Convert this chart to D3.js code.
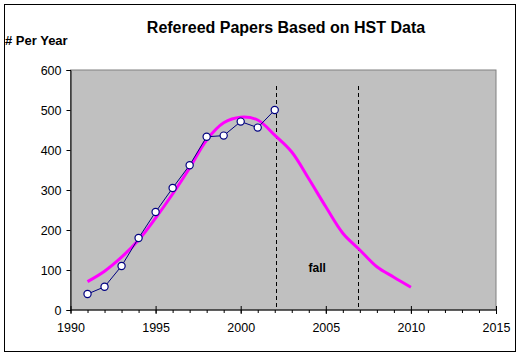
<!DOCTYPE html>
<html><head><meta charset="utf-8">
<script src="https://cdn.jsdelivr.net/npm/d3@7"></script>
<style>body{margin:0;background:#fff}svg{display:block}text{font-family:Arial,"Liberation Sans",sans-serif}</style>
</head><body><svg id="c" width="527" height="356"></svg>
<script>
const title = "Refereed Papers Based on HST Data";
const yTitle = "# Per Year";
const years = [1991,1992,1993,1994,1995,1996,1997,1998,1999,2000,2001,2002];
const papers = [40,58,110,180,245,305,362,433,436,471,456,500];
const fitYears = [1991,1992,1993,1994,1995,1996,1997,1998,1999,2000,2001,2002,2003,2004,2005,2006,2007,2008,2009,2010];
const fitValues = [71,97,132,175,230,290,355,425,468,482,475,437,395,328,258,192,150,108,82,57];
const markerYears = [2002.1,2006.9];
const markerTop = 560;
const xTicks = [1990,1995,2000,2005,2010,2015];
const yTicks = [0,100,200,300,400,500,600];
const noteText = "fall";
const notePos = [2004.5, 95];

const svg = d3.select("#c");
const L=70.5,R=496,T=70,B=310;
const x = d3.scaleLinear().domain([1990,2015]).range([L,R]);
const y = d3.scaleLinear().domain([0,600]).range([B,T]);

svg.append("rect").attr("x",4.5).attr("y",4.5).attr("width",511).attr("height",347).attr("fill","#fff").attr("stroke","#000");
svg.append("rect").attr("x",L).attr("y",T).attr("width",R-L).attr("height",B-T).attr("fill","#c0c0c0").attr("stroke","#808080");

svg.append("text").attr("x",286).attr("y",33).attr("text-anchor","middle").attr("font-size",16).attr("font-weight","bold").text(title);
svg.append("text").attr("x",5).attr("y",45).attr("font-size",13).attr("font-weight","bold").text(yTitle);

// axes
const ya = d3.axisLeft(y).tickValues(yTicks).tickSize(4).tickPadding(5);
const yg = svg.append("g").attr("transform",`translate(${L},0)`).call(ya);
yg.select(".domain").attr("stroke","#000");
yg.selectAll("text").attr("font-size",12.5).attr("font-family","Arial, 'Liberation Sans', sans-serif").attr("fill","#000");

const xg = svg.append("g").attr("transform",`translate(0,${B})`).call(d3.axisBottom(x).tickValues(d3.range(1990,2016)).tickSize(3).tickFormat(""));
xg.select(".domain").remove();
const xm = svg.append("g").attr("transform",`translate(0,${B})`).call(d3.axisBottom(x).tickValues(xTicks).tickSize(4).tickPadding(9).tickFormat(d3.format("d")));
xm.selectAll("line").attr("y1",-4);
xm.select(".domain").attr("stroke","#000").attr("d",`M${L},0H${R}`);
xm.selectAll("text").attr("font-size",12.5).attr("font-family","Arial, 'Liberation Sans', sans-serif").attr("fill","#000");

// dashed markers
svg.selectAll(".mk").data(markerYears).join("line")
  .attr("x1",d=>Math.round(x(d))+0.5).attr("x2",d=>Math.round(x(d))+0.5)
  .attr("y1",y(markerTop)).attr("y2",B)
  .attr("stroke","#000").attr("stroke-dasharray","4,3");

// fit curve
svg.append("path").datum(fitYears.map((d,i)=>[d,fitValues[i]]))
  .attr("d",d3.line().x(d=>x(d[0])).y(d=>y(d[1])).curve(d3.curveCatmullRom))
  .attr("fill","none").attr("stroke","#ff00ff").attr("stroke-width",3);

// data
svg.append("path").datum(years.map((d,i)=>[d,papers[i]]))
  .attr("d",d3.line().x(d=>x(d[0])).y(d=>y(d[1])))
  .attr("fill","none").attr("stroke","#000080").attr("stroke-width",1);
svg.selectAll(".pt").data(years.map((d,i)=>[d,papers[i]])).join("circle")
  .attr("cx",d=>x(d[0])).attr("cy",d=>y(d[1])).attr("r",3.6)
  .attr("fill","#fff").attr("stroke","#000080").attr("stroke-width",1.2);

svg.append("text").attr("x",x(notePos[0])).attr("y",y(notePos[1])).attr("text-anchor","middle").attr("font-size",12).attr("font-weight","bold").text(noteText);
</script></body></html>
